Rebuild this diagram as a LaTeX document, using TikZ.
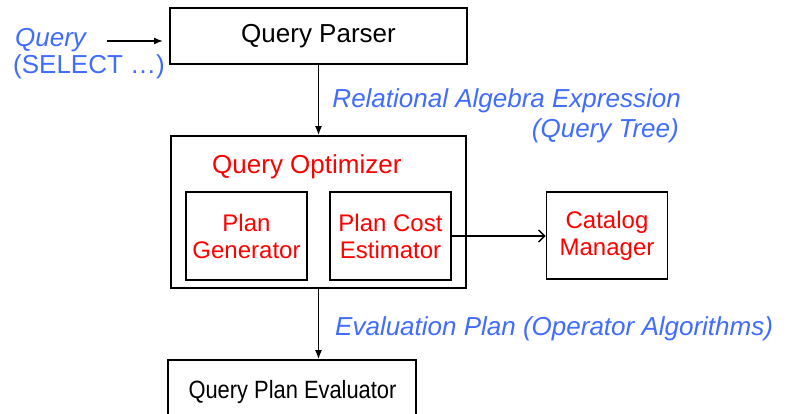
\documentclass[tikz,border=0pt]{standalone}
\usepackage{fontspec}
\setmainfont{Liberation Sans}
\usetikzlibrary{arrows.meta}
\definecolor{annot}{RGB}{64,108,255}
\definecolor{compred}{RGB}{255,0,0}
\tikzset{
  box/.style={draw=black, line width=1.8pt, rectangle, inner sep=0pt, align=center},
  bigtxt/.style={font=\fontsize{26}{30}\selectfont},
  smalltxt/.style={font=\fontsize{24}{28}\selectfont},
  annotation/.style={text=annot, inner sep=0pt, font=\fontsize{26}{30}\selectfont\itshape},
  flow/.style={line width=1.4pt, -{Latex[length=9pt,width=7pt]}},
  lookup/.style={line width=1.4pt, -{Straight Barb[length=6pt,width=12pt,line width=1.4pt]}}
}
\begin{document}
\begin{tikzpicture}[x=1pt,y=-1pt]
  \useasboundingbox (0,0) rectangle (786,414);
  \clip (0,0) rectangle (786,414);
  \fill[white] (0,0) rectangle (786,414);

  % main processing stages
  \node[box, bigtxt, minimum width=297pt, minimum height=56pt] (parser) at (318.5,36) {Query Parser};
  \node[box, minimum width=295pt, minimum height=152pt] (opt) at (318.5,212) {};
  \node[box, smalltxt, text=compred, minimum width=121pt, minimum height=88pt] (gen) at (246.5,236) {Plan\\[-1pt]Generator};
  \node[box, smalltxt, text=compred, minimum width=121pt, minimum height=88pt] (cost) at (390.5,236) {Plan Cost\\[-1pt]Estimator};
  \node[box, smalltxt, text=compred, minimum width=121pt, minimum height=87pt] (cat) at (607,235.5) {Catalog\\[-1pt]Manager};
  \node[box, minimum width=248pt, minimum height=58pt] (eval) at (292,389) {};
  \node[anchor=base, inner sep=0pt, font=\fontsize{25}{30}\selectfont] (evaltxt) at (292.5,398)
    {\scalebox{0.875}[1]{Query Plan Evaluator}};

  % optimizer title
  \node[anchor=base west, inner sep=0pt, text=compred, bigtxt] (opttitle) at (212,173) {Query Optimizer};

  % input query
  \node[annotation, anchor=base west] (qin) at (15,47) {Query};
  \node[anchor=base west, inner sep=0pt, text=annot, bigtxt] (qsel) at (13,74) {(SELECT \dots)};

  % intermediate representations
  \node[annotation, anchor=base east] (rae) at (681,108) {Relational Algebra Expression};
  \node[annotation, anchor=base east] (qtree) at (679,138) {(Query Tree)};
  \node[annotation, anchor=base west] (evplan) at (335,335) {Evaluation Plan (Operator Algorithms)};

  % connectors
  \coordinate (qstart) at (107,41);
  \coordinate (qend) at (163,41);
  \draw[flow] (qstart) -- (qend);
  \draw[flow] (parser.south) -- (opt.north);
  \draw[flow] (opt.south) -- (opt.south |- eval.north);
  \draw[lookup] (cost.east) -- (cat.west |- cost.east);
\end{tikzpicture}
\end{document}
